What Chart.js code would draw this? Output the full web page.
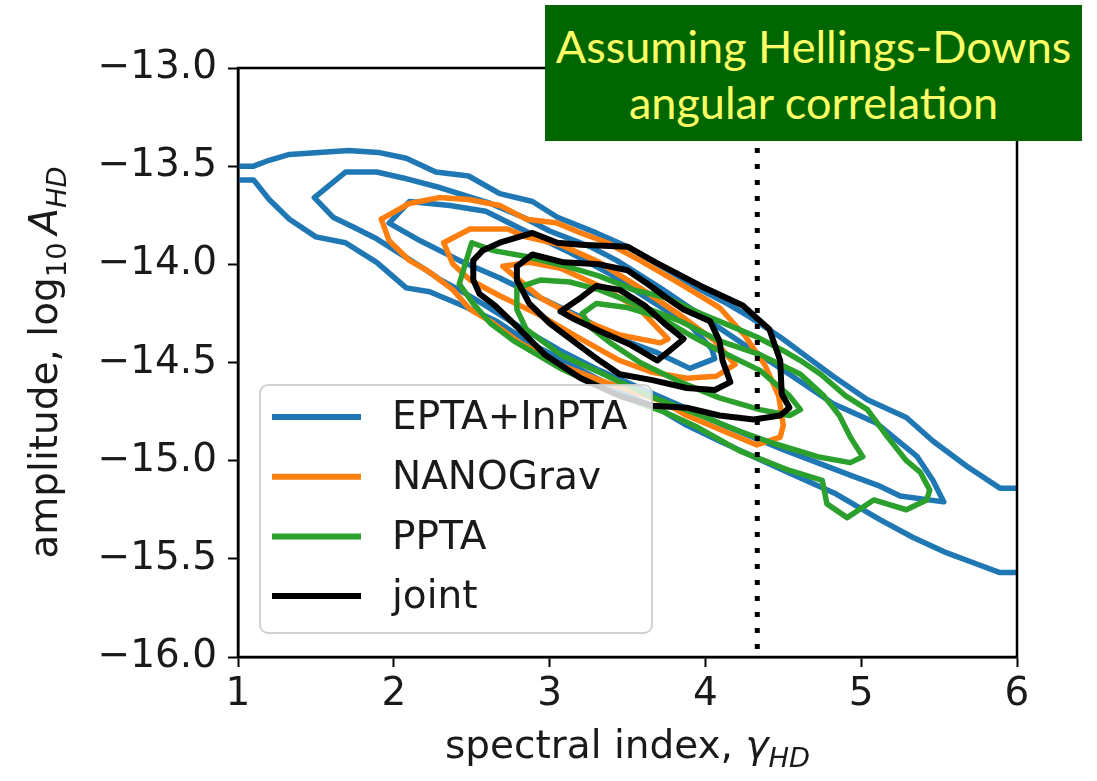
<!DOCTYPE html>
<html>
<head>
<meta charset="utf-8">
<script src="https://cdn.jsdelivr.net/npm/chart.js@4.4.0/dist/chart.umd.min.js"></script>
<style>
  html, body { margin: 0; padding: 0; background: #fff; }
  #wrap { position: relative; width: 1097px; height: 781px; }
  #banner {
    position: absolute; left: 545px; top: 5px; width: 537px; height: 136px;
    background: #006600; color: #ffff66; font-family: Lato, "Open Sans", sans-serif;
    text-align: center; font-size: 45px; line-height: 56px; padding-top: 13px;
    box-sizing: border-box; white-space: nowrap;
  }
</style>
</head>
<body>
<div id="wrap">
  <canvas id="chart" width="1097" height="781"></canvas>
  <div id="banner">Assuming Hellings-Downs<br>angular correlation</div>
</div>
<script>
// axis ticks
const xTickValues = [1, 2, 3, 4, 5, 6];
const yTickValues = [-16.0, -15.5, -15.0, -14.5, -14.0, -13.5, -13.0];
const seriesNames = ['EPTA+InPTA', 'NANOGrav', 'PPTA', 'joint'];
const seriesColors = ['#1f77b4', '#ff7f0e', '#2ca02c', '#000000'];
const gammaRef = 4.333; // dotted line, gamma = 13/3

// EPTA+InPTA contours [gamma, log10 A]
const eptaOuterTop = [[1.00,-13.50],[1.10,-13.50],[1.20,-13.47],[1.33,-13.44],[1.52,-13.43],[1.71,-13.42],[1.90,-13.43],[2.08,-13.46],[2.19,-13.50],[2.27,-13.53],[2.48,-13.55],[2.68,-13.64],[2.89,-13.68],[3.05,-13.76],[3.30,-13.84],[3.50,-13.91],[3.74,-14.02],[3.97,-14.13],[4.14,-14.20],[4.29,-14.27],[4.48,-14.37],[4.65,-14.47],[4.82,-14.57],[5.04,-14.69],[5.29,-14.78],[5.46,-14.90],[5.68,-15.03],[5.89,-15.14],[6.00,-15.14]];
const eptaOuterBottom = [[6.00,-15.57],[5.89,-15.57],[5.72,-15.52],[5.55,-15.47],[5.33,-15.39],[5.12,-15.30],[4.84,-15.17],[4.56,-15.07],[4.31,-14.98],[4.09,-14.90],[3.88,-14.82],[3.71,-14.74],[3.52,-14.67],[3.30,-14.58],[3.09,-14.49],[2.87,-14.40],[2.66,-14.29],[2.44,-14.21],[2.23,-14.14],[2.08,-14.12],[1.89,-13.99],[1.69,-13.89],[1.50,-13.86],[1.33,-13.77],[1.20,-13.67],[1.10,-13.57],[1.00,-13.57]];
const eptaMid = [[1.49,-13.66],[1.69,-13.53],[1.89,-13.53],[2.06,-13.56],[2.30,-13.61],[2.62,-13.69],[2.83,-13.76],[3.00,-13.83],[3.26,-13.91],[3.43,-13.98],[3.71,-14.12],[3.97,-14.26],[4.25,-14.41],[4.52,-14.55],[4.82,-14.71],[5.10,-14.81],[5.36,-14.98],[5.46,-15.10],[5.53,-15.21],[5.25,-15.18],[5.12,-15.13],[4.95,-15.08],[4.52,-14.95],[4.09,-14.81],[3.84,-14.72],[3.58,-14.63],[3.32,-14.54],[3.07,-14.44],[2.81,-14.32],[2.59,-14.21],[2.42,-14.13],[2.30,-14.08],[2.19,-14.02],[2.03,-13.94],[1.89,-13.87],[1.74,-13.81],[1.61,-13.76],[1.49,-13.66]];
const eptaInner = [[1.97,-13.79],[2.10,-13.68],[2.36,-13.70],[2.59,-13.73],[2.87,-13.84],[3.13,-13.94],[3.39,-14.05],[3.64,-14.18],[3.90,-14.31],[4.04,-14.43],[4.06,-14.48],[3.90,-14.53],[3.69,-14.45],[3.45,-14.38],[3.20,-14.27],[2.94,-14.17],[2.68,-14.07],[2.42,-13.98],[2.17,-13.88],[1.97,-13.79]];

// NANOGrav contours
const nanoOuter = [[1.92,-13.77],[2.10,-13.69],[2.29,-13.66],[2.48,-13.67],[2.68,-13.70],[2.85,-13.77],[3.05,-13.79],[3.20,-13.84],[3.37,-13.89],[3.58,-13.98],[3.84,-14.10],[4.09,-14.22],[4.25,-14.36],[4.38,-14.51],[4.47,-14.67],[4.50,-14.82],[4.48,-14.88],[4.33,-14.92],[4.09,-14.84],[3.88,-14.77],[3.73,-14.70],[3.58,-14.66],[3.32,-14.59],[3.09,-14.52],[2.81,-14.40],[2.62,-14.29],[2.49,-14.23],[2.38,-14.13],[2.23,-14.04],[2.10,-13.98],[1.97,-13.88],[1.92,-13.77]];
const nanoMid = [[2.32,-13.89],[2.49,-13.82],[2.73,-13.82],[2.85,-13.86],[3.07,-13.90],[3.32,-13.99],[3.58,-14.12],[3.84,-14.26],[4.06,-14.39],[4.19,-14.51],[4.07,-14.57],[3.88,-14.58],[3.66,-14.55],[3.45,-14.49],[3.20,-14.38],[2.94,-14.26],[2.68,-14.16],[2.49,-14.08],[2.38,-14.00],[2.32,-13.89]];
const nanoInner = [[2.70,-14.01],[2.87,-13.99],[3.07,-14.02],[3.32,-14.11],[3.58,-14.23],[3.76,-14.38],[3.71,-14.40],[3.45,-14.36],[3.20,-14.28],[2.94,-14.17],[2.70,-14.01]];

// PPTA contours
const pptaOuter = [[2.50,-13.89],[2.64,-13.93],[2.85,-13.96],[3.11,-14.01],[3.32,-14.06],[3.54,-14.13],[3.75,-14.17],[3.97,-14.25],[4.18,-14.32],[4.33,-14.37],[4.50,-14.44],[4.61,-14.49],[4.74,-14.56],[4.90,-14.67],[5.04,-14.74],[5.17,-14.88],[5.29,-15.00],[5.38,-15.06],[5.44,-15.15],[5.42,-15.20],[5.29,-15.25],[5.08,-15.20],[4.91,-15.29],[4.78,-15.22],[4.75,-15.10],[4.54,-15.05],[4.22,-14.95],[3.95,-14.83],[3.73,-14.75],[3.45,-14.67],[3.07,-14.53],[2.77,-14.39],[2.62,-14.30],[2.51,-14.20],[2.42,-14.10],[2.50,-13.89]];
const pptaMid = [[2.79,-14.12],[2.94,-14.08],[3.13,-14.09],[3.32,-14.13],[3.58,-14.21],[3.84,-14.29],[4.09,-14.39],[4.35,-14.46],[4.61,-14.56],[4.76,-14.67],[4.86,-14.77],[4.93,-14.88],[5.01,-14.98],[4.93,-15.01],[4.72,-14.98],[4.43,-14.91],[4.22,-14.85],[3.97,-14.77],[3.64,-14.67],[3.32,-14.55],[3.07,-14.46],[2.85,-14.33],[2.79,-14.23],[2.79,-14.12]];
const pptaInner = [[3.21,-14.25],[3.30,-14.20],[3.50,-14.22],[3.71,-14.27],[3.90,-14.36],[4.09,-14.44],[4.35,-14.54],[4.54,-14.67],[4.61,-14.74],[4.54,-14.77],[4.35,-14.74],[4.09,-14.68],[3.84,-14.60],[3.58,-14.50],[3.39,-14.40],[3.26,-14.32],[3.21,-14.25]];

// joint contours
const jointOuter = [[2.51,-13.98],[2.57,-13.93],[2.68,-13.89],[2.89,-13.84],[3.05,-13.89],[3.20,-13.90],[3.50,-13.91],[3.68,-13.99],[3.97,-14.11],[4.24,-14.21],[4.41,-14.33],[4.48,-14.49],[4.49,-14.66],[4.54,-14.73],[4.48,-14.77],[4.31,-14.79],[4.09,-14.77],[3.88,-14.73],[3.66,-14.72],[3.45,-14.67],[3.20,-14.58],[2.97,-14.46],[2.78,-14.31],[2.65,-14.21],[2.55,-14.15],[2.51,-14.08],[2.51,-13.98]];
const jointMid = [[2.79,-14.01],[2.89,-13.95],[3.09,-13.99],[3.32,-14.00],[3.50,-14.03],[3.63,-14.10],[3.75,-14.17],[3.86,-14.23],[4.03,-14.29],[4.09,-14.39],[4.11,-14.49],[4.16,-14.60],[4.06,-14.64],[3.88,-14.63],[3.66,-14.59],[3.45,-14.56],[3.32,-14.49],[3.15,-14.39],[3.00,-14.30],[2.87,-14.20],[2.79,-14.08],[2.79,-14.01]];
const jointInner = [[3.07,-14.24],[3.20,-14.17],[3.30,-14.11],[3.45,-14.13],[3.61,-14.21],[3.75,-14.31],[3.86,-14.38],[3.77,-14.44],[3.69,-14.49],[3.52,-14.41],[3.32,-14.34],[3.16,-14.28],[3.07,-14.24]];

const FONT = 'DejaVu Sans';

function contour(points, color, order) {
  return {
    data: points.map(p => ({ x: p[0], y: p[1] })),
    showLine: true,
    borderColor: color,
    borderWidth: color === '#000000' ? 6 : 5.5,
    pointRadius: 0,
    pointHoverRadius: 0,
    tension: 0,
    fill: false,
    borderJoinStyle: 'round',
    borderCapStyle: 'round',
    order: order
  };
}

const datasets = [
  contour(eptaOuterTop, seriesColors[0], 4),
  contour(eptaOuterBottom, seriesColors[0], 4),
  contour(eptaMid, seriesColors[0], 4),
  contour(eptaInner, seriesColors[0], 4),
  contour(nanoOuter, seriesColors[1], 3),
  contour(nanoMid, seriesColors[1], 3),
  contour(nanoInner, seriesColors[1], 3),
  contour(pptaOuter, seriesColors[2], 2),
  contour(pptaMid, seriesColors[2], 2),
  contour(pptaInner, seriesColors[2], 2),
  contour(jointOuter, seriesColors[3], 1),
  contour(jointMid, seriesColors[3], 1),
  contour(jointInner, seriesColors[3], 1),
  {
    data: [{ x: gammaRef, y: -13 }, { x: gammaRef, y: -16 }],
    showLine: true, borderColor: '#000', borderWidth: 5, borderDash: [5, 11],
    borderCapStyle: 'butt', pointRadius: 0, order: 0
  }
];

// text made of runs: normal / italic / subscript
function drawRuns(ctx, runs, size, cx, cy, rotate) {
  const fontOf = r => (r.italic ? 'italic ' : '') + (r.sub ? size * 0.7 : size) + 'px "' + FONT + '"';
  let total = 0;
  runs.forEach(r => { ctx.font = fontOf(r); r.w = ctx.measureText(r.t).width; total += r.w; });
  ctx.save();
  ctx.translate(cx, cy);
  if (rotate) ctx.rotate(-Math.PI / 2);
  ctx.fillStyle = '#1a1a1a';
  ctx.textBaseline = 'alphabetic';
  ctx.textAlign = 'left';
  let x = -total / 2;
  runs.forEach(r => {
    ctx.font = fontOf(r);
    ctx.fillText(r.t, x, r.sub ? size * 0.22 : 0);
    x += r.w;
  });
  ctx.restore();
}

const framePlugin = {
  id: 'frameAndLabels',
  afterDatasetsDraw(chart) {
    const { ctx, chartArea: a } = chart;
    ctx.save();
    ctx.strokeStyle = '#000';
    ctx.lineWidth = 2.5;
    ctx.strokeRect(a.left, a.top, a.right - a.left, a.bottom - a.top);
    ctx.restore();

    // legend box
    const lx = a.left + 22, ly = a.bottom - 272, lw = 392, lh = 248;
    ctx.save();
    ctx.beginPath();
    ctx.roundRect(lx, ly, lw, lh, 8);
    ctx.fillStyle = 'rgba(255,255,255,0.8)';
    ctx.fill();
    ctx.strokeStyle = 'rgba(204,204,204,0.9)';
    ctx.lineWidth = 2;
    ctx.stroke();
    seriesNames.forEach((name, i) => {
      const yy = ly + 32 + 59.7 * i;
      ctx.beginPath();
      ctx.moveTo(lx + 12, yy);
      ctx.lineTo(lx + 101, yy);
      ctx.strokeStyle = seriesColors[i];
      ctx.lineWidth = 6;
      ctx.lineCap = 'butt';
      ctx.stroke();
      ctx.fillStyle = '#1a1a1a';
      ctx.font = '39px "' + FONT + '"';
      ctx.textBaseline = 'middle';
      ctx.fillText(name, lx + 132, yy + 2);
    });
    ctx.restore();
  },
  afterDraw(chart) {
    const { ctx, chartArea: a } = chart;
    drawRuns(ctx, [
      { t: 'spectral index, ' }, { t: 'γ', italic: true }, { t: 'HD', italic: true, sub: true }
    ], 39, (a.left + a.right) / 2, 758, false);
    drawRuns(ctx, [
      { t: 'amplitude, log' }, { t: '10', sub: true }, { t: '\u2009' },
      { t: 'A', italic: true }, { t: 'HD', italic: true, sub: true }
    ], 39, 57, (a.top + a.bottom) / 2, true);
  }
};

const fmt = v => (v < 0 ? '\u2212' : '') + Math.abs(v).toFixed(1);

new Chart(document.getElementById('chart'), {
  type: 'scatter',
  data: { datasets: datasets },
  options: {
    responsive: false,
    animation: false,
    layout: { padding: { left: 0, top: 68, right: 80, bottom: 0 } },
    plugins: { legend: { display: false }, tooltip: { enabled: false } },
    scales: {
      x: {
        type: 'linear', min: 1, max: 6,
        afterBuildTicks: s => { s.ticks = xTickValues.map(v => ({ value: v })); },
        afterFit: s => { s.height = 124; },
        ticks: { font: { family: FONT, size: 39 }, color: '#1a1a1a', padding: 4, callback: v => String(v) },
        grid: { drawOnChartArea: false, drawTicks: true, tickLength: 10, tickWidth: 2, tickColor: '#000' },
        border: { display: true, color: '#000', width: 2.5 }
      },
      y: {
        type: 'linear', min: -16, max: -13,
        afterBuildTicks: s => { s.ticks = yTickValues.map(v => ({ value: v })); },
        afterFit: s => { s.width = 238; },
        ticks: { font: { family: FONT, size: 39 }, color: '#1a1a1a', padding: 11, callback: v => fmt(v) },
        grid: { drawOnChartArea: false, drawTicks: true, tickLength: 10, tickWidth: 2, tickColor: '#000' },
        border: { display: true, color: '#000', width: 2.5 }
      }
    }
  },
  plugins: [framePlugin]
});
</script>
</body>
</html>
